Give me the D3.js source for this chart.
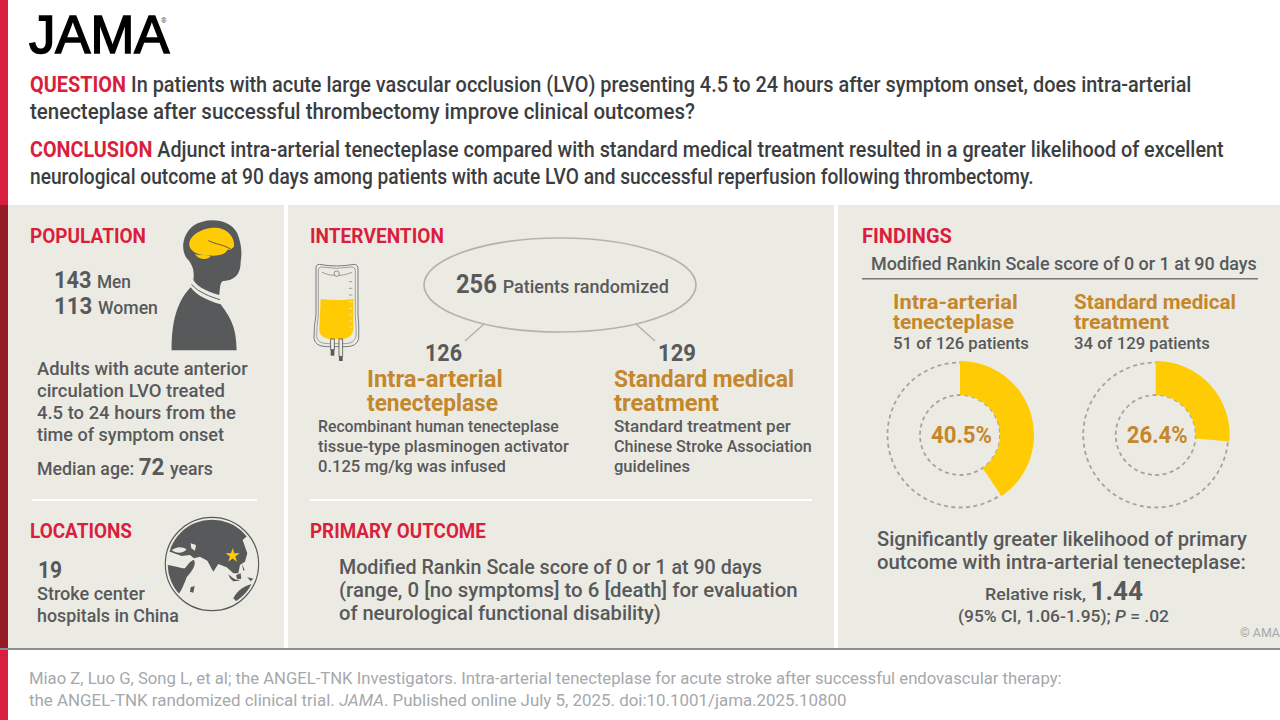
<!DOCTYPE html>
<html>
<head>
<meta charset="utf-8">
<script src="https://cdn.jsdelivr.net/npm/d3@7"></script>
<style>
  html, body { margin: 0; padding: 0; background: #fff; }
  svg { display: block; font-family: Roboto, "Noto Sans", sans-serif; }
</style>
</head>
<body>
<svg id="chart" width="1280" height="720" viewBox="0 0 1280 720"></svg>
<script>
// findings
const armNames = ['Intra-arterial tenecteplase', 'Standard medical treatment'];
const armEvents = [51, 34];
const armTotals = [126, 129];
const armPercents = [40.5, 26.4];

// population, trial counts
const sexCounts = [143, 113];
const sexLabels = ['Men', 'Women'];
const medianAge = 72;
const hospitals = 19;
const randomized = 256;
const relativeRisk = '1.44';

const RED = '#d91f3d';
const GREY = '#58595b';
const INK = '#3c3d3f';
const OCHRE = '#c4872b';
const YELLOW = '#ffcb05';
const PANEL = '#ecebe3';
const FAINT = '#a6a8ab';

const svg = d3.select('#chart');

function rect(x, y, w, h, fill) {
  svg.append('rect').attr('x', x).attr('y', y).attr('width', w).attr('height', h).attr('fill', fill);
}

// one line of text squeezed to the span it has in the picture
function line(x0, x1, y, parts, family) {
  const g = svg.append('g');
  if (family) g.style('font-family', family);
  let x = 0;
  for (const part of parts) {
    const t = g.append('text')
      .attr('x', x).attr('y', 0)
      .attr('font-size', part[1])
      .attr('font-weight', part[2])
      .attr('fill', part[3])
      .attr('font-style', part[4] || null)
      .attr('xml:space', 'preserve')
      .style('white-space', 'pre')
      .text(part[0]);
    x += t.node().getComputedTextLength();
  }
  g.attr('transform', `translate(${x0},${y}) scale(${(x1 - x0) / x},1)`);
  return g;
}

const head = (label, x0, x1, y) => line(x0, x1, y, [[label, 20, 700, RED]]);
const body = (label, x0, x1, y, size = 19, color = GREY) => line(x0, x1, y, [[label, size, 500, color]]);

// page frame
rect(0, 0, 8, 720, RED);
rect(0, 205, 8, 443, '#941c26');
rect(8, 205, 276, 443, PANEL);
rect(288, 205, 546, 443, PANEL);
rect(838, 205, 442, 443, PANEL);
rect(0, 648, 1280, 2, '#8d8d8d');
rect(0, 650, 8, 70, RED);

// logo
line(29, 169.5, 53, [['JAMA', 53, 400, '#000']], '"Liberation Sans", sans-serif').attr('stroke', '#000').attr('stroke-width', 1.6);
svg.append('text').attr('x', 161).attr('y', 23).attr('font-size', 7).attr('fill', GREY).text('®');

// header
line(30, 1192, 92, [['QUESTION ', 22, 700, RED], ['In patients with acute large vascular occlusion (LVO) presenting 4.5 to 24 hours after symptom onset, does intra-arterial', 22, 500, INK]]);
line(30, 695, 119, [['tenecteplase after successful thrombectomy improve clinical outcomes?', 22, 500, INK]]);
line(30, 1224, 157, [['CONCLUSION ', 22, 700, RED], ['Adjunct intra-arterial tenecteplase compared with standard medical treatment resulted in a greater likelihood of excellent', 22, 500, INK]]);
line(30, 1034, 184, [['neurological outcome at 90 days among patients with acute LVO and successful reperfusion following thrombectomy.', 22, 500, INK]]);

// population
head('POPULATION', 30, 146, 243);
line(54, 131, 288, [[`${sexCounts[0]} `, 24, 700, GREY], [sexLabels[0], 19, 500, GREY]]);
line(54, 158, 314, [[`${sexCounts[1]} `, 24, 700, GREY], [sexLabels[1], 19, 500, GREY]]);
body('Adults with acute anterior', 37, 248, 375);
body('circulation LVO treated', 37, 225, 397);
body('4.5 to 24 hours from the', 37, 236, 419);
body('time of symptom onset', 37, 224, 441);
line(37, 213, 475, [['Median age: ', 19, 500, GREY], [`${medianAge} `, 24, 700, GREY], ['years', 19, 500, GREY]]);

// person icon, drawn in 3x units
const person = svg.append('g').attr('transform', 'translate(0,205) scale(0.3333)');
person.append('path').attr('fill', GREY).attr('d', 'M580 225C585 195 575 175 560 160C540 130 550 85 580 62C620 35 690 40 712 85C722 110 728 140 722 170C722 195 715 225 670 228C660 230 660 250 658 270C630 262 595 250 580 225Z');
person.append('path').attr('fill', GREY).attr('d', 'M572 247C590 272 625 288 662 298C685 330 710 360 710 436L515 436C515 380 520 300 572 247Z');
person.append('path').attr('fill', 'none').attr('stroke', GREY).attr('stroke-width', 3).attr('d', 'M575 238C595 262 630 275 660 284');
person.append('path').attr('fill', YELLOW).attr('d', 'M568 120C566 90 610 66 650 68C690 72 706 105 702 125C696 132 688 136 682 134C680 145 660 152 640 152C610 152 572 148 568 120Z');
person.append('path').attr('fill', YELLOW).attr('d', 'M585 148C600 150 620 150 632 153C625 166 595 166 585 148Z');
person.append('path').attr('fill', 'none').attr('stroke', GREY).attr('stroke-width', 3).attr('d', 'M625 107C645 118 670 118 692 132');

rect(32, 499, 225, 2, '#fff');

// locations
head('LOCATIONS', 30, 132, 538);
line(38, 62, 578, [[String(hospitals), 24, 700, GREY]]);
body('Stroke center', 37, 145, 600);
body('hospitals in China', 37, 179, 622);

// globe, drawn in 3x units
const globe = svg.append('g').attr('transform', 'translate(0,490) scale(0.3333)');
svg.append('clipPath').attr('id', 'globe-clip').append('circle').attr('cx', 636).attr('cy', 222).attr('r', 133);
globe.append('circle').attr('cx', 636).attr('cy', 222).attr('r', 140).attr('fill', 'none').attr('stroke', GREY).attr('stroke-width', 3.5);
const land = globe.append('g').attr('clip-path', 'url(#globe-clip)');
land.append('path').attr('fill', GREY).attr('d', 'M490 60L790 60L790 150L745 135L728 150L742 190L735 215L720 225L715 250L700 250L680 232L655 222L640 245L622 212L600 200L582 205L570 195L545 198L510 185L490 190Z');
land.append('path').attr('fill', GREY).attr('d', 'M495 225C520 225 535 235 555 235C565 222 572 212 582 210C590 225 575 245 560 262C552 285 540 312 530 318L495 330Z');
land.append('path').attr('fill', GREY).attr('d', 'M700 325C715 295 740 282 780 278L780 345L720 345Z');
land.append('path').attr('fill', GREY).attr('d', 'M572 292L584 288L580 308L570 305Z');
land.append('path').attr('fill', GREY).attr('d', 'M685 252C695 262 705 270 722 272L700 274C692 268 688 262 685 252Z');
land.append('path').attr('fill', GREY).attr('d', 'M708 256L722 250L724 266L712 268Z');
land.append('path').attr('fill', GREY).attr('d', 'M742 262L760 266L752 274Z');
land.append('path').attr('fill', GREY).attr('d', 'M726 222L734 240L730 242Z');
land.append('path').attr('fill', PANEL).attr('d', 'M515 180C530 170 545 168 560 178C550 190 530 192 515 180Z');
land.append('path').attr('fill', PANEL).attr('d', 'M572 160L588 165L585 182L574 175Z');
globe.append('path').attr('transform', 'translate(698,197)').attr('fill', YELLOW)
  .attr('d', d3.symbol().type(d3.symbolStar).size(560)());

// intervention
head('INTERVENTION', 310, 444, 243);
svg.append('ellipse').attr('cx', 560).attr('cy', 285).attr('rx', 136).attr('ry', 47)
  .attr('fill', 'none').attr('stroke', '#b3b3ae').attr('stroke-width', 1.7);
svg.append('path').attr('fill', 'none').attr('stroke', '#b3b3ae').attr('stroke-width', 1.5).attr('d', 'M484 324L465 341M636 324L655 341');
line(456, 669, 293, [[`${randomized} `, 25, 700, GREY], ['Patients randomized', 19, 500, GREY]]);

// iv bag, drawn in 3x units
const bag = svg.append('g').attr('transform', 'translate(290,215) scale(0.3333)');
const bagStroke = (d, w = 3) => bag.append('path').attr('fill', 'none').attr('stroke', '#77787a').attr('stroke-width', w).attr('d', d);
bag.append('path').attr('fill', YELLOW).attr('d', 'M92 252Q140 258 190 252L190 330Q195 365 160 372L120 372Q85 368 88 340Z');
bagStroke('M88 148Q140 158 192 148Q205 148 204 165L204 300Q208 330 206 372Q200 395 168 395L112 395Q75 395 72 370Q72 330 78 300L78 165Q76 148 88 148Z');
bagStroke('M92 156Q140 164 188 156Q196 158 196 168L196 300Q200 340 198 365Q192 386 165 386L115 386Q82 386 80 365Q80 335 85 300L85 168Q84 158 92 156Z', 2);
bagStroke('M95 172Q140 192 187 172', 2);
bag.append('circle').attr('cx', 140).attr('cy', 176).attr('r', 8).attr('fill', PANEL).attr('stroke', '#77787a').attr('stroke-width', 2.5);
for (const y of [200, 220, 240, 260, 280, 300, 318, 336]) {
  bag.append('line').attr('x1', 177).attr('x2', 187).attr('y1', y).attr('y2', y).attr('stroke', y < 250 ? '#8d8e90' : PANEL).attr('stroke-width', 2.5);
}
bag.append('rect').attr('x', 122).attr('y', 372).attr('width', 11).attr('height', 32).attr('fill', PANEL).attr('stroke', '#58595b').attr('stroke-width', 2.5);
bag.append('rect').attr('x', 147).attr('y', 372).attr('width', 11).attr('height', 52).attr('fill', PANEL).attr('stroke', '#58595b').attr('stroke-width', 2.5);
bag.append('rect').attr('x', 122).attr('y', 404).attr('width', 11).attr('height', 18).attr('fill', '#58595b');
bag.append('rect').attr('x', 147).attr('y', 424).attr('width', 11).attr('height', 14).attr('fill', '#58595b');

// trial arms
const armLines = armNames.map((name) => {
  const cut = name.lastIndexOf(' ');
  return [name.slice(0, cut), name.slice(cut + 1)];
});

line(425, 462, 361, [[String(armTotals[0]), 24, 700, GREY]]);
line(367, 503, 387, [[armLines[0][0], 24, 700, OCHRE]]);
line(367, 498, 411, [[armLines[0][1], 24, 700, OCHRE]]);
body('Recombinant human tenecteplase', 318, 559, 432, 17);
body('tissue-type plasminogen activator', 318, 569, 452, 17);
body('0.125 mg/kg was infused', 318, 506, 472, 17);

line(658, 696, 361, [[String(armTotals[1]), 24, 700, GREY]]);
line(614, 794, 387, [[armLines[1][0], 24, 700, OCHRE]]);
line(614, 719, 411, [[armLines[1][1], 24, 700, OCHRE]]);
body('Standard treatment per', 614, 791, 432, 17);
body('Chinese Stroke Association', 614, 812, 452, 17);
body('guidelines', 614, 690, 472, 17);

rect(310, 499, 502, 2, '#fff');

// primary outcome
head('PRIMARY OUTCOME', 310, 486, 538);
body('Modified Rankin Scale score of 0 or 1 at 90 days', 339, 762, 574, 20);
body('(range, 0 [no symptoms] to 6 [death] for evaluation', 339, 798, 597, 20);
body('of neurological functional disability)', 339, 661, 620, 20);

// findings
head('FINDINGS', 862, 952, 243);
body('Modified Rankin Scale score of 0 or 1 at 90 days', 871, 1257, 270, 19);
rect(862, 278, 396, 1.5, '#77787a');

const armColumns = [[893, 1018, 1014, 1029], [1074, 1236, 1169, 1210]];
armColumns.forEach((col, i) => {
  line(col[0], col[1], 309, [[armLines[i][0], 21, 700, OCHRE]]);
  line(col[0], col[2], 329, [[armLines[i][1], 21, 700, OCHRE]]);
  body(`${armEvents[i]} of ${armTotals[i]} patients`, col[0], col[3], 349, 17);
});

// donuts
const angle = d3.scaleLinear().domain([0, 100]).range([0, 2 * Math.PI]);
const donutCenters = d3.scalePoint().domain(armPercents).range([960, 1155.7]);
const outerR = 74;
const innerR = 40;
const arc = d3.arc().innerRadius(innerR).outerRadius(outerR);

const donuts = svg.append('g').selectAll('g').data(armPercents).join('g')
  .attr('transform', (d) => `translate(${donutCenters(d)},435)`);

donuts.selectAll('circle').data([72.5, innerR]).join('circle')
  .attr('r', (r) => r)
  .attr('fill', 'none')
  .attr('stroke', '#a3a3a0')
  .attr('stroke-width', 1.8)
  .attr('stroke-dasharray', '4 3.4');

donuts.append('path')
  .attr('fill', YELLOW)
  .attr('d', (d) => arc({ startAngle: 0, endAngle: angle(d) }));

armPercents.forEach((p) => {
  const cx = donutCenters(p);
  line(cx - 29, cx + 32, 443, [[`${p}%`, 24, 700, OCHRE]]);
});

// result text
body('Significantly greater likelihood of primary', 877, 1247, 546, 20);
body('outcome with intra-arterial tenecteplase:', 877, 1246, 569, 20);
line(985, 1143, 600, [['Relative risk, ', 17, 500, GREY], [relativeRisk, 25, 700, GREY]]);
line(958, 1169, 622, [['(95% CI, 1.06-1.95); ', 17, 500, GREY], ['P', 17, 500, GREY, 'italic'], [' = .02', 17, 500, GREY]]);
line(1240, 1280, 637, [['© AMA', 12, 400, FAINT]]);

// citation
line(29, 1062, 684, [['Miao Z, Luo G, Song L, et al; the ANGEL-TNK Investigators. Intra-arterial tenecteplase for acute stroke after successful endovascular therapy:', 17, 400, FAINT]]);
line(29, 847, 706, [['the ANGEL-TNK randomized clinical trial. ', 17, 400, FAINT], ['JAMA', 17, 400, FAINT, 'italic'], ['. Published online July 5, 2025. doi:10.1001/jama.2025.10800', 17, 400, FAINT]]);
</script>
</body>
</html>
